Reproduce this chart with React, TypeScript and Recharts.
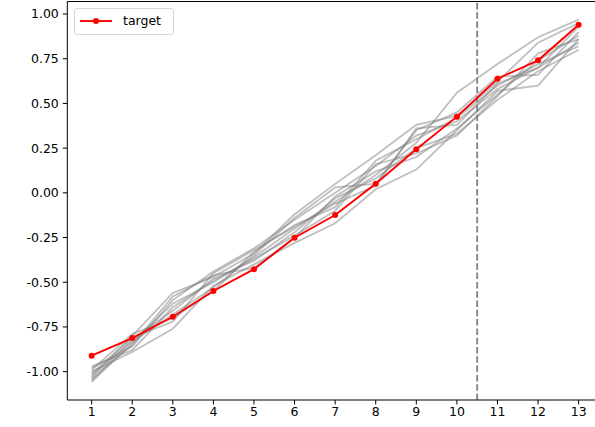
import React from "react";
import { LineChart, Line, XAxis, YAxis, ReferenceLine } from "recharts";

// Sample indices along the horizontal axis
const steps = [1, 2, 3, 4, 5, 6, 7, 8, 9, 10, 11, 12, 13];

// Target trajectory (red)
const target = [-0.911, -0.812, -0.693, -0.549, -0.427, -0.251, -0.124, 0.051, 0.244, 0.426, 0.638, 0.741, 0.94];

// Ensemble members (gray)
const run1 = [-1.057, -0.84, -0.62, -0.5, -0.36, -0.2, -0.05, 0.1, 0.28, 0.56, 0.72, 0.87, 0.969];
const run2 = [-1.03, -0.8, -0.56, -0.47, -0.34, -0.12, 0.05, 0.21, 0.38, 0.43, 0.62, 0.84, 0.95];
const run3 = [-1.0, -0.89, -0.76, -0.52, -0.4, -0.28, -0.17, 0.02, 0.13, 0.35, 0.57, 0.6, 0.86];
const run4 = [-0.98, -0.86, -0.6, -0.44, -0.31, -0.15, 0.0, 0.15, 0.32, 0.4, 0.58, 0.7, 0.84];
const run5 = [-1.05, -0.82, -0.66, -0.48, -0.38, -0.22, -0.03, 0.08, 0.25, 0.33, 0.52, 0.68, 0.8];
const run6 = [-0.99, -0.79, -0.7, -0.55, -0.33, -0.18, -0.08, 0.18, 0.3, 0.42, 0.6, 0.72, 0.82];
const run7 = [-1.04, -0.85, -0.58, -0.46, -0.42, -0.25, -0.02, 0.12, 0.2, 0.36, 0.55, 0.74, 0.88];
const run8 = [-1.02, -0.83, -0.68, -0.53, -0.35, -0.14, 0.03, 0.05, 0.35, 0.45, 0.65, 0.66, 0.9];
const run9 = [-0.97, -0.88, -0.64, -0.49, -0.37, -0.24, -0.1, 0.16, 0.22, 0.32, 0.54, 0.78, 0.86];
const run10 = [-1.01, -0.81, -0.72, -0.45, -0.32, -0.19, -0.06, 0.04, 0.36, 0.38, 0.61, 0.7, 0.93];

const runs = [run1, run2, run3, run4, run5, run6, run7, run8, run9, run10];

const yTicks = [-1.0, -0.75, -0.5, -0.25, 0.0, 0.25, 0.5, 0.75, 1.0];
const splitAt = 10.5;

const X_DOMAIN: [number, number] = [0.4, 13.6];
const Y_DOMAIN: [number, number] = [-1.1586, 1.07];

const data = steps.map((x, i) => {
  const row: Record<string, number> = { x, target: target[i] };
  runs.forEach((r, k) => {
    row["run" + k] = r[i];
  });
  return row;
});

const font = "'DejaVu Sans', sans-serif";

export default function App() {
  return (
    <div
      style={{
        position: "absolute",
        left: 0,
        top: 0,
        width: 595,
        height: 427,
        overflow: "hidden",
        background: "#fff",
        fontFamily: font,
      }}
    >
      <LineChart
        width={603}
        height={427}
        data={data}
        margin={{ top: 1.5, right: 0, bottom: 0, left: 0 }}
      >
        <XAxis
          dataKey="x"
          type="number"
          domain={X_DOMAIN}
          ticks={steps}
          allowDataOverflow
          height={27}
          stroke="#000"
          tickSize={4.5}
          tickMargin={3}
          tick={{ fill: "#000", fontSize: 12.5, fontFamily: font }}
        />
        <YAxis
          type="number"
          domain={Y_DOMAIN}
          ticks={yTicks}
          allowDataOverflow
          width={67.3}
          stroke="#000"
          tickSize={4.5}
          tickMargin={4}
          tickFormatter={(v: number) => v.toFixed(2)}
          tick={{ fill: "#000", fontSize: 12.5, fontFamily: font }}
        />
        <ReferenceLine y={Y_DOMAIN[1]} stroke="#000" strokeWidth={1} />
        {runs.map((_, k) => (
          <Line
            key={k}
            dataKey={"run" + k}
            stroke="#808080"
            strokeOpacity={0.5}
            strokeWidth={1.8}
            dot={false}
            isAnimationActive={false}
            type="linear"
          />
        ))}
        <ReferenceLine
          x={splitAt}
          stroke="#808080"
          strokeWidth={1.8}
          strokeDasharray="6.5 2.8"
        />
        <Line
          dataKey="target"
          stroke="#ff0000"
          strokeWidth={1.9}
          dot={{ r: 3, fill: "#ff0000", stroke: "#ff0000", strokeWidth: 0 }}
          isAnimationActive={false}
          type="linear"
        />
      </LineChart>
      <div
        style={{
          position: "absolute",
          left: 74,
          top: 8,
          width: 100,
          height: 27,
          boxSizing: "border-box",
          border: "1px solid #d6d6d6",
          borderRadius: 3,
          background: "rgba(255,255,255,0.8)",
        }}
      >
        <svg width={40} height={25} style={{ position: "absolute", left: 0, top: 0 }}>
          <line x1={5} y1={12} x2={37} y2={12} stroke="#ff0000" strokeWidth={1.9} />
          <circle cx={21} cy={12} r={3} fill="#ff0000" />
        </svg>
        <span
          style={{
            position: "absolute",
            left: 48,
            top: 4,
            fontSize: 12.5,
            lineHeight: "15px",
            color: "#000",
            fontFamily: font,
          }}
        >
          target
        </span>
      </div>
    </div>
  );
}
